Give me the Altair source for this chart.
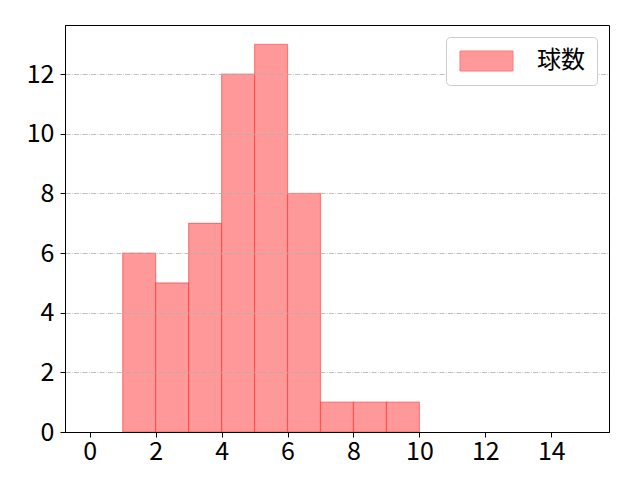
import altair as alt
import pandas as pd

bin_start = [1, 2, 3, 4, 5, 6, 7, 8, 9]
bin_end = [2, 3, 4, 5, 6, 7, 8, 9, 10]
counts = [6, 5, 7, 12, 13, 8, 1, 1, 1]
series_name = "球数"
x_ticks = [0, 2, 4, 6, 8, 10, 12, 14]
y_ticks = [0, 2, 4, 6, 8, 10, 12]

df = pd.DataFrame({"start": bin_start, "end": bin_end, "count": counts,
                   "series": [series_name] * len(counts)})

FONT = "Noto Sans CJK JP"

chart = alt.Chart(df).mark_rect(
    stroke="#ff0000", strokeOpacity=0.4, strokeWidth=1.2
).encode(
    x=alt.X("start:Q", scale=alt.Scale(domain=[-0.75, 15.75], nice=False, zero=False),
            axis=alt.Axis(values=x_ticks, grid=False, title=None, format="d", zindex=2,
                          labelPadding=2)),
    x2="end:Q",
    y=alt.Y("count:Q", scale=alt.Scale(domain=[0, 13.65], nice=False),
            axis=alt.Axis(values=y_ticks, grid=True, title=None, format="d", zindex=1,
                          labelPadding=6,
                          gridColor="#b0b0b0", gridWidth=0.8,
                          gridDash=[5.1, 1.3, 0.8, 1.3])),
    y2=alt.datum(0),
    color=alt.Color("series:N", scale=alt.Scale(domain=[series_name], range=["#ff9999"]),
                    title=None,
                    legend=alt.Legend(orient="top-right", offset=12, padding=12,
                                      cornerRadius=4, strokeColor="#cccccc",
                                      fillColor="white", zindex=3,
                                      labelFontSize=24, labelFont=FONT,
                                      labelOffset=55,
                                      symbolType="M-1,-1 L4.3,-1 L4.3,1 L-1,1 Z",
                                      symbolSize=400,
                                      symbolStrokeColor="#ff7777",
                                      symbolStrokeWidth=1)),
).properties(
    width=544, height=407,
    autosize=alt.AutoSizeParams(type="none"),
    padding={"left": 57, "top": 17, "right": 10, "bottom": 40},
).configure_view(
    stroke="black", strokeWidth=1
).configure_axis(
    labelFont=FONT, labelFontSize=25, labelColor="black",
    tickColor="black", tickSize=5, tickWidth=1,
    domainColor="black", domainWidth=1
)

chart.save("out.html", embed_options={"renderer": "svg", "actions": False})
